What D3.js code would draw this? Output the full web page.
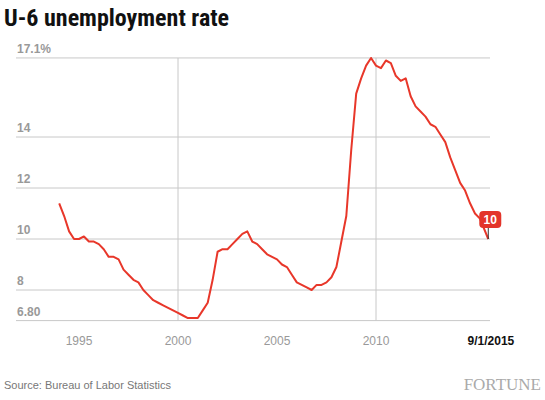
<!DOCTYPE html>
<html>
<head>
<script src="https://d3js.org/d3.v7.min.js"></script>
<style>
body{margin:0;background:#fff;font-family:'Liberation Sans',Helvetica,sans-serif;}
</style>
</head>
<body>
<svg id="chart" width="545" height="400"></svg>
<script>
// quarterly readings, fractional year
var years = [1994,1994.25,1994.5,1994.75,1995,1995.25,1995.5,1995.75,1996,1996.25,1996.5,1996.75,
  1997,1997.25,1997.5,1997.75,1998,1998.25,1998.5,1998.75,1999,1999.25,1999.5,1999.75,
  2000,2000.25,2000.5,2000.75,2001,2001.25,2001.5,2001.75,2002,2002.25,2002.5,2002.75,
  2003,2003.25,2003.5,2003.75,2004,2004.25,2004.5,2004.75,2005,2005.25,2005.5,2005.75,
  2006,2006.25,2006.5,2006.75,2007,2007.25,2007.5,2007.75,2008,2008.25,2008.5,2008.75,
  2009,2009.25,2009.5,2009.75,2010,2010.25,2010.5,2010.75,2011,2011.25,2011.5,2011.75,
  2012,2012.25,2012.5,2012.75,2013,2013.25,2013.5,2013.75,2014,2014.25,2014.5,2014.75,
  2015,2015.25,2015.67];
var rates = [11.4,10.9,10.3,10.0,10.0,10.1,9.9,9.9,9.8,9.6,9.3,9.3,
  9.2,8.8,8.6,8.4,8.3,8.0,7.8,7.6,7.5,7.4,7.3,7.2,
  7.1,7.0,6.9,6.9,6.9,7.2,7.5,8.4,9.5,9.6,9.6,9.8,
  10.0,10.2,10.3,9.9,9.8,9.6,9.4,9.3,9.2,9.0,8.9,8.6,
  8.3,8.2,8.1,8.0,8.2,8.2,8.3,8.5,8.9,9.9,10.9,13.5,
  15.7,16.3,16.8,17.1,16.8,16.7,17.0,16.9,16.4,16.2,16.3,15.6,
  15.2,15.0,14.8,14.5,14.4,14.1,13.8,13.2,12.7,12.2,11.9,11.4,
  11.0,10.8,10.0];
var yTicks = [6.8,8,10,12,14,17.1];
var yTickLabels = ["6.80","8","10","12","14","17.1%"];
var xTicks = [1995,2000,2005,2010];

var svg = d3.select("#chart");
var x = d3.scaleLinear().domain([2000,2010]).range([178,376]);
var y = d3.scaleLinear().domain([8,10]).range([290,239]);
var left = 16, right = 490;

svg.append("text").attr("x",4).attr("y",26).text("U-6 unemployment rate")
  .attr("font-family","'Liberation Sans Narrow','Roboto Condensed',sans-serif")
  .attr("font-weight","bold").attr("font-size",24).attr("fill","#111");

svg.selectAll(".hg").data(yTicks).enter().append("line")
  .attr("x1",left).attr("x2",right).attr("y1",d=>y(d)).attr("y2",d=>y(d))
  .attr("stroke","#c8c8c8").attr("stroke-width",1);
svg.selectAll(".vg").data([2000,2010]).enter().append("line")
  .attr("x1",d=>x(d)).attr("x2",d=>x(d)).attr("y1",y(17.1)).attr("y2",y(6.8))
  .attr("stroke","#c8c8c8").attr("stroke-width",1);

svg.selectAll(".yl").data(yTicks).enter().append("text")
  .attr("x",17).attr("y",d=>y(d)-5).text((d,i)=>yTickLabels[i])
  .attr("font-size",12).attr("font-weight","bold").attr("fill","#999");

svg.selectAll(".xl").data(xTicks).enter().append("text")
  .attr("x",d=>x(d)).attr("y",345).attr("text-anchor","middle").text(d=>d)
  .attr("font-size",12).attr("fill","#999");
svg.append("text").attr("x",x(2015.67)+26).attr("y",345).attr("text-anchor","end")
  .text("9/1/2015").attr("font-size",12).attr("font-weight","bold").attr("fill","#111");

var line = d3.line().x((d,i)=>x(years[i])).y(d=>y(d));
svg.append("path").datum(rates).attr("d",line).attr("fill","none")
  .attr("stroke","#e8372a").attr("stroke-width",2).attr("stroke-linejoin","round");

var lx = x(years[years.length-1]), ly = y(rates[rates.length-1]);
svg.append("line").attr("x1",lx).attr("x2",lx).attr("y1",ly).attr("y2",ly-12)
  .attr("stroke","#333").attr("stroke-width",1);
svg.append("rect").attr("x",lx-9).attr("y",ly-28).attr("width",22).attr("height",17)
  .attr("rx",4).attr("fill","#e3342a");
svg.append("text").attr("x",lx+2).attr("y",ly-15).attr("text-anchor","middle")
  .text("10").attr("font-size",12).attr("font-weight","bold").attr("fill","#fff");

svg.append("text").attr("x",4).attr("y",389).text("Source: Bureau of Labor Statistics")
  .attr("font-size",11).attr("fill","#777");
svg.append("text").attr("x",541).attr("y",390).attr("text-anchor","end").text("FORTUNE")
  .attr("font-family","'Liberation Serif',serif").attr("font-size",17).attr("fill","#aaa");
</script>
</body>
</html>
